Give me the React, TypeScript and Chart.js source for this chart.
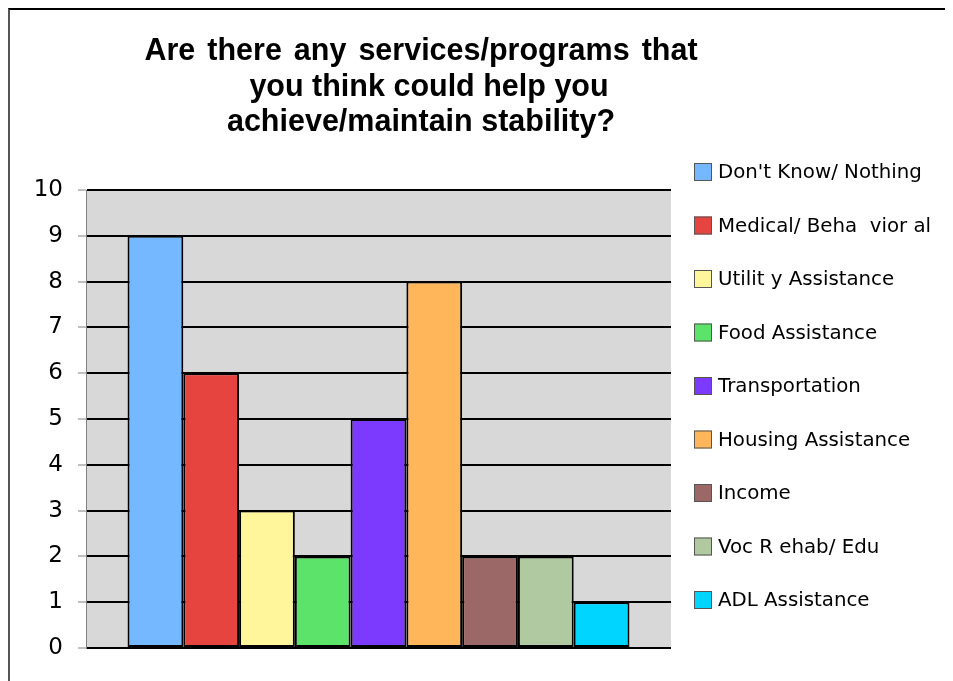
import React, { useEffect, useRef } from "react";
import { Chart, registerables } from "chart.js";

Chart.register(...registerables);

const categories = [""];
const seriesLabels = [
  "Don't Know/ Nothing",
  "Medical/ Beha  vior al",
  "Utilit y Assistance",
  "Food Assistance",
  "Transportation",
  "Housing Assistance",
  "Income",
  "Voc R ehab/ Edu",
  "ADL Assistance",
];
const seriesValues = [9, 6, 3, 2, 5, 8, 2, 2, 1];
const seriesColors = [
  "#75B8FF",
  "#E6453F",
  "#FFF59A",
  "#5BE36A",
  "#7D3AFF",
  "#FFB55A",
  "#9B6767",
  "#B0C9A0",
  "#00D5FF",
];
const titleLines = [
  "Are there any services/programs that",
  "you think could help you",
  "achieve/maintain stability?",
];
const yMin = 0;
const yMax = 10;
const yStep = 1;

const plotBgPlugin = {
  id: "plotBg",
  beforeDraw(chart: any) {
    const { ctx, chartArea } = chart;
    ctx.save();
    ctx.fillStyle = "#D8D8D8";
    ctx.fillRect(chartArea.left, chartArea.top, chartArea.right - chartArea.left, chartArea.bottom - chartArea.top);
    ctx.restore();
  },
};

const titlePlugin = {
  id: "customTitle",
  afterDraw(chart: any) {
    const { ctx } = chart;
    const lineShift = [0, 8, 0];
    const wordGap = ["3.5px", "0px", "0px"];
    ctx.save();
    ctx.fillStyle = "#000";
    ctx.font = "bold 30.5px 'Liberation Sans', Arial, sans-serif";
    ctx.textAlign = "center";
    ctx.textBaseline = "alphabetic";
    titleLines.forEach((line, i) => {
      try {
        (ctx as any).wordSpacing = wordGap[i];
      } catch (e) {}
      ctx.fillText(line, 411 + lineShift[i], 50 + i * 35.5);
    });
    ctx.restore();
  },
};

const legendPlugin = {
  id: "customLegend",
  afterDraw(chart: any) {
    const { ctx } = chart;
    ctx.save();
    ctx.font = "19.8px 'DejaVu Sans', Verdana, sans-serif";
    ctx.textBaseline = "middle";
    ctx.textAlign = "left";
    chart.data.datasets.forEach((ds: any, i: number) => {
      const cy = 162 + i * 53.5;
      ctx.fillStyle = ds.backgroundColor;
      ctx.fillRect(684, cy - 9, 18, 18);
      ctx.strokeStyle = "#555";
      ctx.lineWidth = 1;
      ctx.strokeRect(684.5, cy - 8.5, 17, 17);
      ctx.fillStyle = "#000";
      ctx.fillText(ds.label, 708, cy + 1);
    });
    ctx.restore();
  },
};

export default function App() {
  const canvasRef = useRef<HTMLCanvasElement | null>(null);

  useEffect(() => {
    document.documentElement.style.overflow = "hidden";
    if (!canvasRef.current) return;
    const chart = new Chart(canvasRef.current, {
      type: "bar",
      data: {
        labels: categories,
        datasets: seriesLabels.map((label, i) => ({
          label,
          data: [seriesValues[i]],
          backgroundColor: seriesColors[i],
          borderColor: "#000",
          borderWidth: 2,
          borderSkipped: false,
          categoryPercentage: 0.858,
          barPercentage: 1,
        })),
      },
      options: {
        animation: false,
        responsive: false,
        maintainAspectRatio: false,
        layout: { padding: { top: 180, right: 282, bottom: 25, left: 0 } },
        plugins: {
          legend: { display: false },
          title: { display: false },
          tooltip: { enabled: false },
        },
        scales: {
          x: { display: false },
          y: {
            min: yMin,
            max: yMax,
            ticks: {
              stepSize: yStep,
              color: "#000",
              padding: 15,
              font: { family: "'DejaVu Sans', Verdana, sans-serif", size: 23 },
            },
            grid: {
              color: "#000",
              lineWidth: 2,
              tickColor: "#808080",
              tickLength: 8,
              tickWidth: 1,
            },
            border: { color: "#808080", width: 1 },
            afterFit(scale: any) {
              scale.width = 76;
              scale.paddingTop = 0;
              scale.paddingBottom = 0;
            },
          },
        },
      },
      plugins: [plotBgPlugin, titlePlugin, legendPlugin],
    });
    return () => chart.destroy();
  }, []);

  return (
    <div
      style={{
        position: "relative",
        width: 945,
        height: 673,
        boxSizing: "border-box",
        borderTop: "2px solid #000",
        borderLeft: "2px solid #555",
        overflow: "hidden",
        background: "#fff",
      }}
    >
      <canvas ref={canvasRef} width={943} height={663} style={{ display: "block", width: 943, height: 663 }} />
    </div>
  );
}
